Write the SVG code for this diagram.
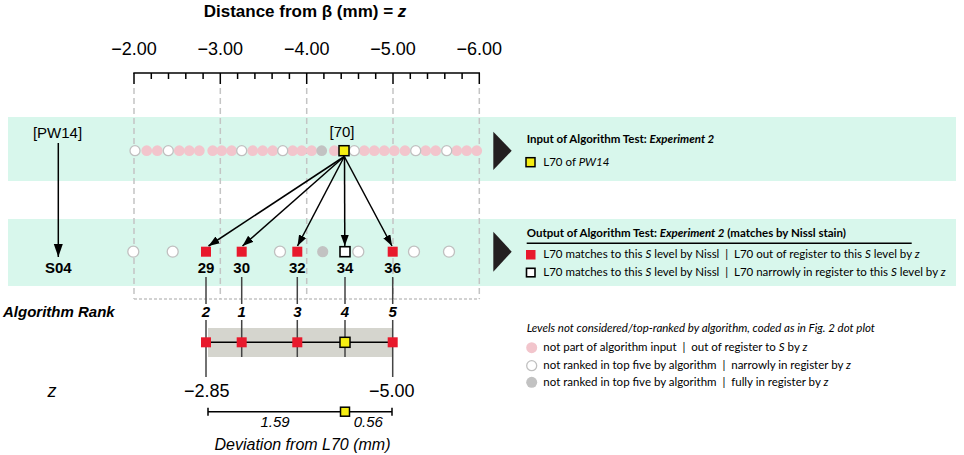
<svg xmlns="http://www.w3.org/2000/svg" width="964" height="455" viewBox="0 0 964 455">
<defs>
<style>
text{font-family:"Liberation Sans",Arial,sans-serif;fill:#000}
.t17{font-size:18px}
.ttl{font-size:17px;font-weight:bold}
.lbl{font-size:15px}
.b{font-weight:bold}
.i{font-style:italic}
.lg{font-family:Lato,"Liberation Sans",sans-serif;font-size:11.5px;white-space:pre}
.band{fill:#d8f7ec}
.dash{stroke:#c4c4c4;stroke-width:1.5;stroke-dasharray:6 4;fill:none}
.pk{fill:#f2c5cc}
.wh{fill:#fff;stroke:#c0c0c0;stroke-width:1.3}
.gr{fill:#c2c2c2}
.rd{fill:#e8192c}
.yl{fill:#f5ee12;stroke:#000;stroke-width:1.5}
.bk{fill:#fff;stroke:#000;stroke-width:1.6}
.ln{stroke:#000;stroke-width:1.5;fill:none}
.vl{stroke:#444;stroke-width:1.5;fill:none}
.tri{fill:#231f20}
</style>
<marker id="ah" markerUnits="userSpaceOnUse" markerWidth="12" markerHeight="9" refX="11" refY="4" orient="auto"><path d="M0,0 L11,4 L0,8 Z" fill="#000"/></marker>
<marker id="ah2" markerUnits="userSpaceOnUse" markerWidth="14" markerHeight="10" refX="13" refY="4.5" orient="auto"><path d="M0,0 L13,4.5 L0,9 Z" fill="#000"/></marker>
</defs>
<rect width="964" height="455" fill="#fff"/>

<g id="bands">
<rect class="band" x="8" y="117" width="948" height="64"/>
<rect class="band" x="8" y="219" width="948" height="67"/>
</g>

<g id="axis">
<text class="ttl" x="305" y="17" text-anchor="middle">Distance from β (mm) = <tspan class="i">z</tspan></text>
<text class="t17" x="134" y="55" text-anchor="middle">−2.00</text>
<text class="t17" x="220.3" y="55" text-anchor="middle">−3.00</text>
<text class="t17" x="306.7" y="55" text-anchor="middle">−4.00</text>
<text class="t17" x="393" y="55" text-anchor="middle">−5.00</text>
<text class="t17" x="479.3" y="55" text-anchor="middle">−6.00</text>
<path class="ln" d="M133.3,73 H480"/>
<path class="ln" d="M134,73 V84 M220.3,73 V84 M306.7,73 V84 M393,73 V84 M479.3,73 V84"/>
<path class="ln" d="M151.3,73 V79 M168.5,73 V79 M185.8,73 V79 M203.1,73 V79 M237.6,73 V79 M254.9,73 V79 M272.1,73 V79 M289.4,73 V79 M323.9,73 V79 M341.2,73 V79 M358.5,73 V79 M375.7,73 V79 M410.3,73 V79 M427.5,73 V79 M444.8,73 V79 M462.1,73 V79"/>
<path class="dash" d="M134,88 V299 M220.3,88 V299 M306.7,88 V299 M393,88 V299 M479.3,88 V299"/>
<path d="M134,299 H479.3" stroke="#c4c4c4" stroke-width="1.3" stroke-dasharray="3 2" fill="none"/>
</g>

<g id="input-row">
<text class="lbl" x="57.5" y="138" text-anchor="middle">[PW14]</text>
<text class="lbl" x="342" y="136.5" text-anchor="middle">[70]</text>
<g class="pk">
<circle cx="146.7" cy="150.7" r="5.4"/><circle cx="157.3" cy="150.7" r="5.4"/><circle cx="179.3" cy="150.7" r="5.4"/><circle cx="189.3" cy="150.7" r="5.4"/><circle cx="199.3" cy="150.7" r="5.4"/><circle cx="212.7" cy="150.7" r="5.4"/><circle cx="221.7" cy="150.7" r="5.4"/><circle cx="231.7" cy="150.7" r="5.4"/><circle cx="252.7" cy="150.7" r="5.4"/><circle cx="262.7" cy="150.7" r="5.4"/><circle cx="272.7" cy="150.7" r="5.4"/><circle cx="292.7" cy="150.7" r="5.4"/><circle cx="301.7" cy="150.7" r="5.4"/><circle cx="311.7" cy="150.7" r="5.4"/><circle cx="334.3" cy="150.7" r="5.4"/><circle cx="364.3" cy="150.7" r="5.4"/><circle cx="374.3" cy="150.7" r="5.4"/><circle cx="384.3" cy="150.7" r="5.4"/><circle cx="394.3" cy="150.7" r="5.4"/><circle cx="405" cy="150.7" r="5.4"/><circle cx="425.7" cy="150.7" r="5.4"/><circle cx="435.7" cy="150.7" r="5.4"/><circle cx="456.7" cy="150.7" r="5.4"/><circle cx="466.7" cy="150.7" r="5.4"/><circle cx="476.7" cy="150.7" r="5.4"/>
</g>
<g class="wh">
<circle cx="135" cy="150.7" r="5"/><circle cx="168.3" cy="150.7" r="5"/><circle cx="241.7" cy="150.7" r="5"/><circle cx="282.7" cy="150.7" r="5"/><circle cx="354.3" cy="150.7" r="5"/><circle cx="415.7" cy="150.7" r="5"/><circle cx="446.7" cy="150.7" r="5"/>
</g>
<circle class="gr" cx="321.7" cy="150.7" r="5.4"/>
<rect id="L70" class="yl" x="339" y="145.7" width="10" height="10"/>
</g>

<g id="output-row">
<text class="lbl b" x="58.3" y="273.3" text-anchor="middle">S04</text>
<g class="wh">
<circle cx="133.3" cy="251.7" r="5.5"/><circle cx="172.7" cy="251.7" r="5.5"/><circle cx="280" cy="251.7" r="5.5"/><circle cx="358.3" cy="251.7" r="5.5"/><circle cx="414" cy="251.7" r="5.5"/><circle cx="449" cy="251.7" r="5.5"/>
</g>
<circle class="gr" cx="322.7" cy="251.7" r="5.6"/>
<g class="rd">
<rect x="201" y="246.7" width="10" height="10"/><rect x="236.7" y="246.7" width="10" height="10"/><rect x="292.3" y="246.7" width="10" height="10"/><rect x="387.7" y="246.7" width="10" height="10"/>
</g>
<rect class="bk" x="340" y="246.7" width="10" height="10"/>
<g class="lbl b" text-anchor="middle">
<text x="206" y="273.3">29</text><text x="241.7" y="273.3">30</text><text x="297.3" y="273.3">32</text><text x="345" y="273.3">34</text><text x="392.7" y="273.3">36</text>
</g>
</g>

<g id="connectors">
<path class="ln" d="M58.3,143 V257" marker-end="url(#ah2)"/>
<path class="ln" d="M344.3,156.5 L208.5,246" marker-end="url(#ah)"/>
<path class="ln" d="M344.3,156.5 L242.5,246" marker-end="url(#ah)"/>
<path class="ln" d="M344.3,156.5 L297.5,246" marker-end="url(#ah)"/>
<path class="ln" d="M344.5,156.5 L344.8,246" marker-end="url(#ah)" stroke="#333"/>
<path class="ln" d="M344.3,156.5 L392,246" marker-end="url(#ah)"/>
<path class="vl" d="M206,277 V304 M241.7,277 V304 M297.3,277 V304 M345,277 V304 M392.7,277 V304"/>
</g>

<g id="rank">
<text class="lbl b i" x="3" y="316.7">Algorithm Rank</text>
<g class="lbl b i" text-anchor="middle">
<text x="206" y="316.7">2</text><text x="241.7" y="316.7">1</text><text x="297.3" y="316.7">3</text><text x="345" y="316.7">4</text><text x="392.7" y="316.7">5</text>
</g>
<rect x="208" y="328" width="184" height="29" fill="#d5d5ce"/>
<path class="vl" d="M206,320 V377 M392.7,320 V377 M241.7,320 V357 M297.3,320 V357 M345,320 V357"/>
<path class="ln" d="M206,342.3 H392.7"/>
<g class="rd">
<rect x="201" y="337.3" width="10" height="10"/><rect x="236.7" y="337.3" width="10" height="10"/><rect x="292.3" y="337.3" width="10" height="10"/><rect x="387.7" y="337.3" width="10" height="10"/>
</g>
<rect class="yl" x="340" y="337.3" width="10" height="10"/>
</g>

<g id="zrow">
<text class="t17 i" x="52" y="396.5" text-anchor="middle">z</text>
<text class="t17" x="206.7" y="396.5" text-anchor="middle">−2.85</text>
<text class="t17" x="391.7" y="396.5" text-anchor="middle">−5.00</text>
<path class="ln" d="M208,411.7 H392 M208,407.7 V415.7 M392,407.7 V415.7" stroke-width="1.3"/>
<rect class="yl" x="340.5" y="407.2" width="9" height="9"/>
<text class="lbl i" x="275" y="426.7" text-anchor="middle">1.59</text>
<text class="lbl i" x="368.3" y="426.7" text-anchor="middle">0.56</text>
<text class="i" x="302.5" y="450" text-anchor="middle" font-size="16">Deviation from L70 (mm)</text>
</g>

<g id="legend-input">
<path class="tri" d="M493.3,131.7 L511.7,150.8 L493.3,170 Z"/>
<text class="lg b" x="526.7" y="143.3">Input of Algorithm Test: <tspan class="i">Experiment 2</tspan></text>
<rect class="yl" x="526" y="157.7" width="9" height="9"/>
<text class="lg" x="543.3" y="165.8">L70 of <tspan class="i">PW14</tspan></text>
</g>

<g id="legend-output">
<path class="tri" d="M493.3,231.7 L511.7,251.7 L493.3,271.7 Z"/>
<text class="lg b" x="526.7" y="236.7">Output of Algorithm Test: <tspan class="i">Experiment 2</tspan> (matches by Nissl stain)</text>
<path class="ln" d="M526.7,243.3 H911.7"/>
<rect class="rd" x="526" y="250" width="9.5" height="9.5"/>
<text class="lg" x="543.3" y="258.3">L70 matches to this <tspan class="i">S</tspan> level by Nissl  |  L70 out of register to this <tspan class="i">S</tspan> level by <tspan class="i">z</tspan></text>
<rect class="bk" x="526.5" y="268.3" width="8.5" height="8.5"/>
<text class="lg" x="543.3" y="276.3">L70 matches to this <tspan class="i">S</tspan> level by Nissl  |  L70 narrowly in register to this <tspan class="i">S</tspan> level by <tspan class="i">z</tspan></text>
</g>

<g id="legend-levels">
<text class="lg i" x="526.7" y="331.7" font-size="11.8">Levels not considered/top-ranked by algorithm, coded as in Fig. 2 dot plot</text>
<circle class="pk" cx="531.7" cy="347.7" r="5.5"/>
<text class="lg" x="543.3" y="351">not part of algorithm input  |  out of register to <tspan class="i">S</tspan> by <tspan class="i">z</tspan></text>
<circle class="wh" cx="531.7" cy="365.7" r="5"/>
<text class="lg" x="543.3" y="369">not ranked in top five by algorithm  |  narrowly in register by <tspan class="i">z</tspan></text>
<circle class="gr" cx="531.7" cy="382.3" r="5.5"/>
<text class="lg" x="543.3" y="386">not ranked in top five by algorithm  |  fully in register by <tspan class="i">z</tspan></text>
</g>
</svg>
